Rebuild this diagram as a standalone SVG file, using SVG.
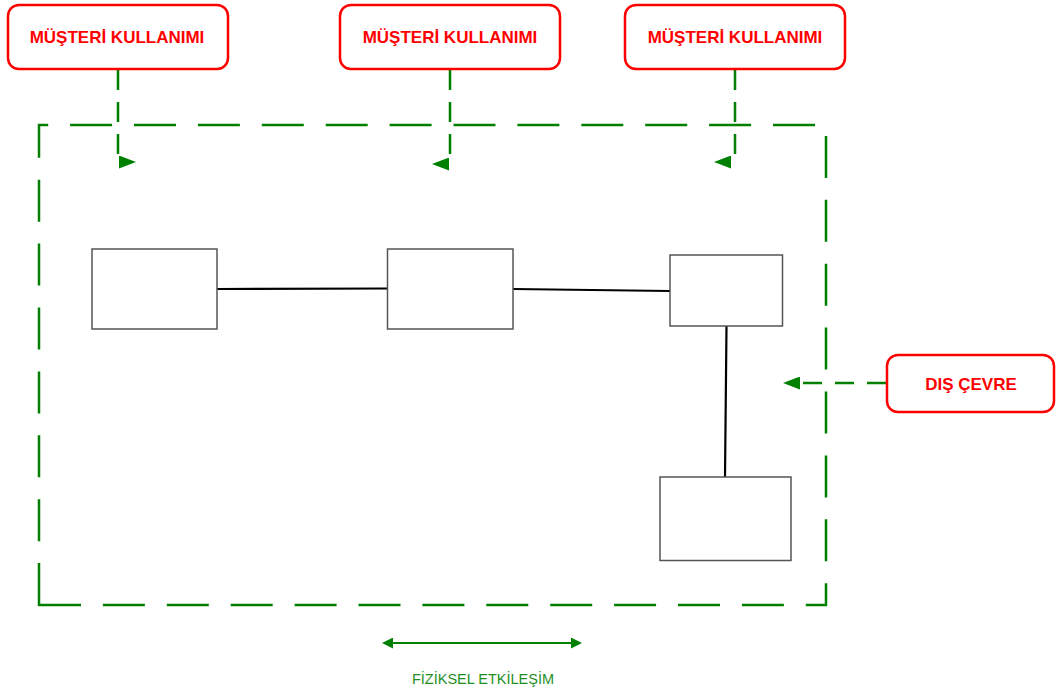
<svg xmlns="http://www.w3.org/2000/svg" width="1056" height="693" viewBox="0 0 1056 693">
<defs>
<style>
.frame{fill:none;stroke:#008000;stroke-width:2.5;stroke-dasharray:42 21.9}
.conn{fill:none;stroke:#008000;stroke-width:2.5;stroke-dasharray:20 12}
.side{fill:none;stroke:#008000;stroke-width:2.5;stroke-dasharray:19 13}
.redbox{fill:#fff;stroke:#ff0000;stroke-width:2.5}
.redtxt{font-family:"Liberation Sans",Arial,sans-serif;font-weight:bold;font-size:17px;fill:#ff0000;text-anchor:middle}
.node{fill:#fff;stroke:#555;stroke-width:1.5}
.link{fill:none;stroke:#000;stroke-width:2.2}
.phys{fill:none;stroke:#008000;stroke-width:2.2}
.green{font-family:"Liberation Sans",Arial,sans-serif;font-size:14.5px;fill:#1f8f1f;text-anchor:middle}
</style>
<marker id="ah" viewBox="0 0 17 13" refX="0" refY="6.5" markerWidth="17" markerHeight="13" markerUnits="userSpaceOnUse" orient="auto">
<path d="M0,0 L17,6.5 L0,13 Z" fill="#008000"/>
</marker>
<marker id="sm" viewBox="0 0 11 11" refX="1" refY="5.5" markerWidth="11" markerHeight="11" markerUnits="userSpaceOnUse" orient="auto-start-reverse">
<path d="M0,0 L11,5.5 L0,11 Z" fill="#008000"/>
</marker>
</defs>
<rect width="1056" height="693" fill="#fff"/>

<g id="frame">
<path class="frame" d="M39,605 H826 V125 H39 Z"/>
</g>

<g id="connectors">
<path class="conn" d="M118,70 V162 H119" marker-end="url(#ah)"/>
<path class="conn" d="M450,70 V164 H449" marker-end="url(#ah)"/>
<path class="conn" d="M735,70 V162 H731" marker-end="url(#ah)"/>
<path class="side" d="M886,383 H800" marker-end="url(#ah)"/>
<path class="link" d="M217,289 L387,288.5"/>
<path class="link" d="M513,289 L670,291"/>
<path class="link" d="M726.5,326 L725,477"/>
<path class="phys" d="M392,643 H572" marker-start="url(#sm)" marker-end="url(#sm)"/>
</g>

<g id="musteri1">
<rect class="redbox" x="8" y="5" width="220" height="64" rx="11"/>
<text class="redtxt" x="117" y="43">MÜŞTERİ KULLANIMI</text>
</g>
<g id="musteri2">
<rect class="redbox" x="340" y="5" width="220" height="64" rx="11"/>
<text class="redtxt" x="450" y="43">MÜŞTERİ KULLANIMI</text>
</g>
<g id="musteri3">
<rect class="redbox" x="625" y="5" width="220" height="64" rx="11"/>
<text class="redtxt" x="735" y="43">MÜŞTERİ KULLANIMI</text>
</g>
<g id="discevre">
<rect class="redbox" x="887" y="355" width="167" height="57" rx="11"/>
<text class="redtxt" x="971" y="390">DIŞ ÇEVRE</text>
</g>

<g id="nodeA"><rect class="node" x="92" y="249" width="125" height="80"/></g>
<g id="nodeB"><rect class="node" x="387.5" y="249" width="125.5" height="80"/></g>
<g id="nodeC"><rect class="node" x="670" y="255" width="112.5" height="71"/></g>
<g id="nodeD"><rect class="node" x="660" y="477" width="131" height="83.5"/></g>

<g id="fiziksel">
<text class="green" x="483" y="684">FİZİKSEL ETKİLEŞİM</text>
</g>
</svg>
